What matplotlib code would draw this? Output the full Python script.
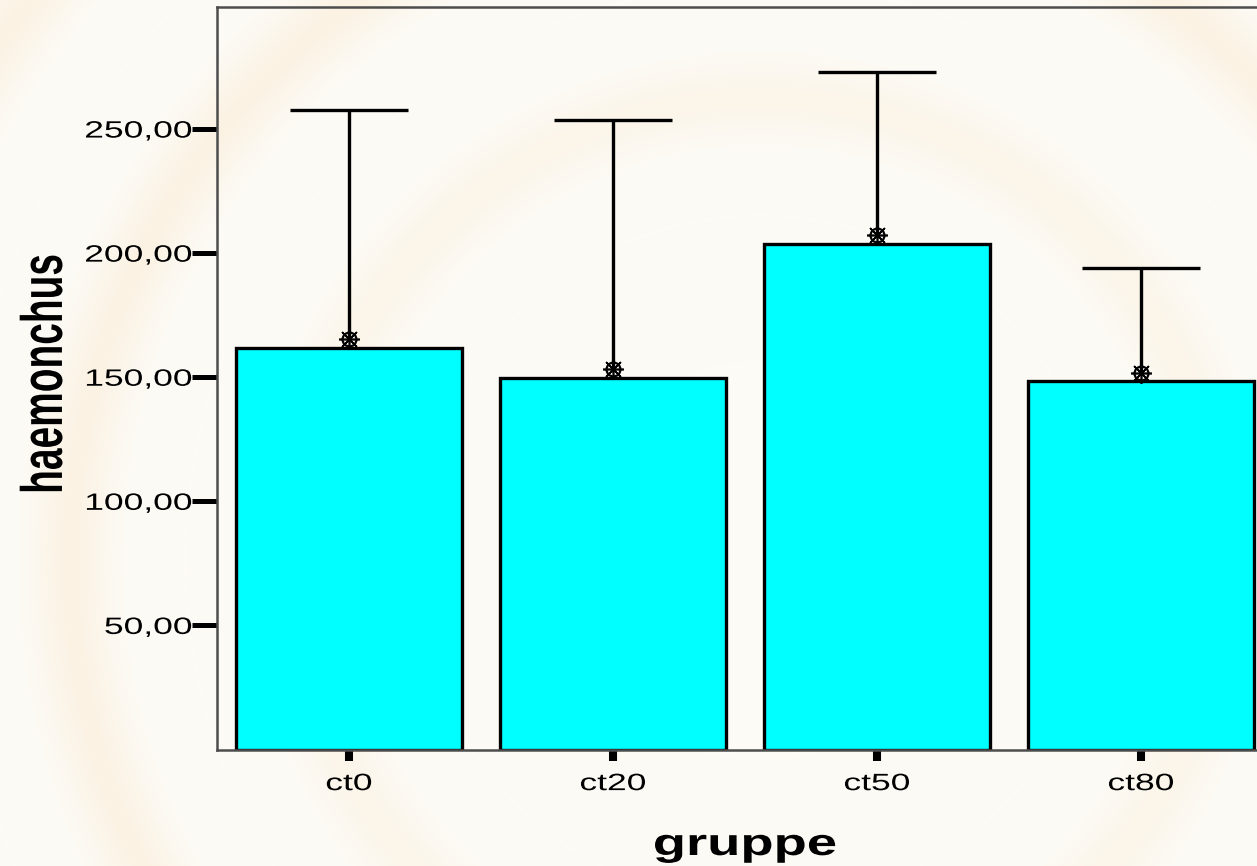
import numpy as np
import matplotlib
matplotlib.use("Agg")
import matplotlib.pyplot as plt
from matplotlib.patheffects import AbstractPathEffect
from matplotlib.transforms import Affine2D

# ------------- data ------------------------------------
groups = ["ct0", "ct20", "ct50", "ct80"]
bar_values = [161.8, 149.5, 203.5, 148.4]
mean_values = [165.6, 153.2, 207.3, 151.9]
upper_values = [257.7, 253.5, 273.0, 194.2]
y_ticks = [50, 100, 150, 200, 250]
y_tick_labels = ["50,00", "100,00", "150,00", "200,00", "250,00"]
# -------------------------------------------------------


class Stretch(AbstractPathEffect):
    # the original picture is stretched sideways, so the text is too
    def __init__(self, sx=1.0, sy=1.0, anchor="center"):
        super().__init__()
        self.sx = sx
        self.sy = sy
        self.anchor = anchor

    def draw_path(self, renderer, gc, tpath, affine, rgbFace=None):
        ext = tpath.get_extents()
        cx = ext.x1 if self.anchor == "right" else (ext.x0 + ext.x1) / 2
        cy = (ext.y0 + ext.y1) / 2
        t = Affine2D().translate(-cx, -cy).scale(self.sx, self.sy).translate(cx, cy) + affine
        renderer.draw_path(gc, tpath, t, rgbFace)


plt.rcParams['font.family'] = ['Liberation Sans', 'DejaVu Sans']

W, H = 1257, 866
fig = plt.figure(figsize=(W / 100, H / 100), dpi=100)

# cream background with faint rings
bg = fig.add_axes([0, 0, 1, 1], zorder=-10)
yy, xx = np.mgrid[0:H, 0:W]
r = np.hypot(xx - 760, yy - 560)
ring = 0.5 + 0.5 * np.cos(2 * np.pi * r / 230.0)
ring = ring ** 4 * np.clip((r - 200) / 400, 0, 1)
base = np.array([253, 251, 246]) / 255.0
warm = np.array([249, 234, 210]) / 255.0
k = 0.5 * ring[..., None]
img = base[None, None, :] * (1 - k) + warm[None, None, :] * k
bg.imshow(img, aspect="auto", extent=[0, 1, 0, 1])
bg.axis("off")

ax = fig.add_axes([217 / W, (H - 749.5) / H, 4 * 264 / W, 742.8 / H])
ax.patch.set_alpha(0)

x = np.arange(len(groups))
ax.bar(x, bar_values, width=0.856, color="#00ffff", edgecolor="black", linewidth=2.4, zorder=2)

# upper half of the error bars only
ax.vlines(x, mean_values, upper_values, color="black", linewidth=2.4, zorder=3)
ax.hlines(upper_values, x - 0.222, x + 0.222, color="black", linewidth=2.4, zorder=3)
ax.plot(x, mean_values, "o", ms=10, mfc="none", mec="black", mew=1.6, zorder=4)
ax.plot(x, mean_values, marker=(8, 2, 0), ms=15, ls="none", color="black", mew=1.2, zorder=4)

ax.set_xlim(-0.5, 3.5)
ax.set_ylim(0, 299.3)

ax.set_yticks(y_ticks)
ax.set_yticklabels(y_tick_labels)
ax.set_xticks(x)
ax.set_xticklabels(groups)
ax.tick_params(axis="y", length=18, width=3.6, color="black", pad=0, labelsize=17)
ax.tick_params(axis="x", length=8, width=5.8, color="black", pad=9, labelsize=17)
for lab in ax.get_yticklabels():
    lab.set_path_effects([Stretch(sx=1.5, anchor="right")])
for lab in ax.get_xticklabels():
    lab.set_path_effects([Stretch(sx=1.5)])

for side in ["left", "top", "bottom"]:
    ax.spines[side].set_color("#4d4d4d")
    ax.spines[side].set_linewidth(1.8)
ax.spines["right"].set_visible(False)

fig.text(745 / W, 11 / H, "gruppe", ha="center", va="baseline", fontsize=27,
         fontweight="bold", path_effects=[Stretch(sx=1.45)])
fig.text(45 / W, (H - 374) / H, "haemonchus", ha="center", va="center", rotation=90,
         fontsize=28, fontweight="bold", path_effects=[Stretch(sy=1.5)])

fig.savefig("out.png", dpi=100)
